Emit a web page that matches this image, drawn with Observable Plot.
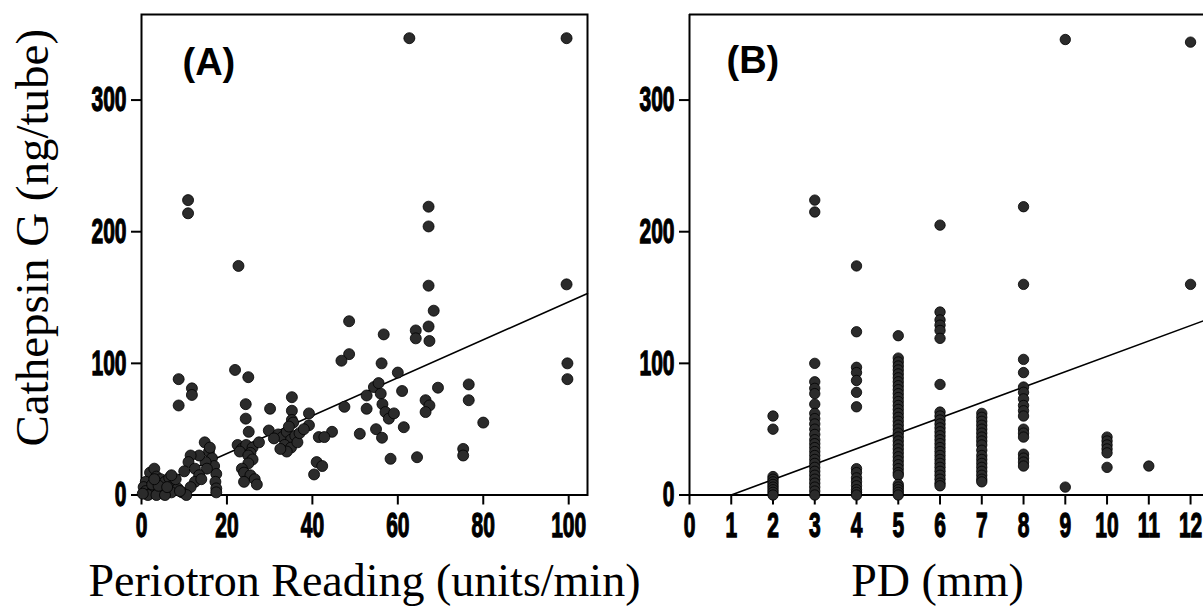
<!DOCTYPE html>
<html><head><meta charset="utf-8">
<script src="https://cdn.jsdelivr.net/npm/d3@7"></script>
<script src="https://cdn.jsdelivr.net/npm/@observablehq/plot@0.6"></script>
<style>
html,body{margin:0;padding:0;background:#fff;}
#chart{position:relative;width:1203px;height:606px;overflow:hidden;background:#fff;}
#chart svg{position:absolute;top:0;}
</style></head><body><div id="chart"></div>
<script>
// ---- Panel A: Periotron reading vs Cathepsin G ----
const periotronA = [62.7,99.5,10.9,10.9,67.2,67.2,22.7,67.2,99.5,68.4,48.6,67.2,64.2,64.2,56.7,67.4,48.6,46.8,56.2,99.7,99.7,21.9,25,8.7,11.8,11.8,60,76.6,76.6,69.4,61,8.7,35.2,30.1,24.4,24.4,47.5,52.7,52.7,54.4,56,56.4,57.1,57.9,59.1,55.5,66.5,67.4,66.5,39.2,39.2,35.2,35.2,61.4,80,44.6,51.1,54.9,56.3,41.5,42.8,75.3,75.3,58.3,64.5,41,42.3,40.4,
25.1,29.8,22.5,23.5,24.5,26,25.5,23,25,26,25,23.5,24,25.5,26.5,27,24,27.5,
32,33,34,35,36,33.5,35,34,36.5,37,38,31,32.5,35.5,34.5,
14.8,15.8,16.5,17,17.5,17.3,17.5,17.5,15,15.3,13.5,16,
11.5,11,12.5,13.5,12.5,11.5,14,10,
2,3,3.5,4.5,5.5,6.5,7.5,8.5,9.5,10.5,1,0.5,1,2,3,4,5,6,7,1.5,3.5,5.5,0.3,2.5,4,6,8,9,3,7];
const cathepsinA = [347,347,224,214,219,204,174,159,160,140,132,128,125,119,122,117,107,102,100,100,88,95,89.5,88,81,76,93,84,72,81.5,79,68,74.3,65.5,69,58,67,75.6,65.5,82,77,69,63,58,62,85,72,68,63,62,53,64,57,51.5,55,48,46.5,50,43.5,44,44,35,30,27.5,28.7,25,22,15.6,
48,49,38,35,38,36,32,33,30,27,24,20,17,15,12,8,10,40,
46,44,48,42,45,38,36,33,40,47,50,43,35,55,52,
40,33,28,22,16,10,5,2,25,20,30,36,
30,25,20,15,10,6,12,18,
17,20,14,12,10,13,8,5,2,0,10,6,3,1,2,4,1,3,2,0,0,0,1,8,7,6,12,3,12,15];
const fitA = {intercept: 2.7, slope: 1.44};
const ticksA = [0,20,40,60,80,100];

// ---- Panel B: PD vs Cathepsin G ----
const pdLevels = [2,3,4,5,6,7,8,9,10,11,12];
const cathepsinByPD = [
  [60,50,14,12,10,8,6,4,2,0],
  [224,215,100,86,81,77,69,62,58,54,50,46,42,39,36,33,30,27,24,21,18,15,12,9,6,3,0],
  [174,124,97,93,87,78,67,20,17,13,10,7,4,2,0],
  [121,104,101,98,95,92,89,86,83,80,77,74,71,68,65,62,59,56,53,50,47,44,41,38,35,32,29,26,23,20,17,15,8,6,4,2,0],
  [205,139,133,129,125,119,84,63,60,57,54,51,48,45,42,39,36,33,30,27,24,21,18,15,12,9,7],
  [62,59,56,53,50,47,44,41,38,34,30,27,24,21,18,15,12,10],
  [219,160,103,93,82,78,73,68,64,60,50,47,44,31,28,25,22],
  [346,6],
  [44,41,38,35,32,21],
  [22],
  [344,160]
];
const fitB = {intercept: -11.7, slope: 11.7, start: 1};
const ticksB = [0,1,2,3,4,5,6,7,8,9,10,11,12];
const ticksY = [0,100,200,300];

const yDomain = [0, 365];
const dataA = periotronA.map((x, i) => ({x, y: cathepsinA[i]}));
const dataB = pdLevels.flatMap((x, i) => cathepsinByPD[i].map(y => ({x, y})));

const serif = "'Liberation Serif','Times New Roman',serif";
const sans = "'Liberation Sans',Arial,sans-serif";

// make tick labels tall and narrow like the original condensed type
function condense(svg, k) {
  svg.querySelectorAll('g[aria-label="x-axis tick label"] text, g[aria-label="y-axis tick label"] text').forEach(t => {
    let tr = t.getAttribute("transform") || "";
    const xa = t.getAttribute("x"), ya = t.getAttribute("y");
    if (!tr) {
      const x = xa != null && isFinite(+xa) ? +xa : 0;
      const y = ya != null && isFinite(+ya) ? +ya : 0;
      if (xa != null && isFinite(+xa)) t.removeAttribute("x");
      if (ya != null && isFinite(+ya)) t.removeAttribute("y");
      tr = `translate(${x},${y})`;
    }
    t.setAttribute("transform", `${tr} scale(${k},1)`);
    t.setAttribute("stroke", "black");
    t.setAttribute("stroke-width", "1.3");
  });
}

const axisStyle = {fontSize: 35, fontWeight: "bold", fontFamily: sans, label: null};

const xDomA = [0, 104.4];
const plotA = Plot.plot({
  width: 600, height: 606,
  marginLeft: 141, marginRight: 13, marginTop: 14, marginBottom: 111.5,
  style: {background: "transparent", overflow: "visible", color: "black"},
  x: {domain: xDomA, label: null},
  y: {domain: yDomain, label: null},
  marks: [
    Plot.frame({stroke: "black", strokeWidth: 2}),
    Plot.axisY({ticks: ticksY, tickSize: 10, tickPadding: 5, tickFormat: d => String(d), ...axisStyle, strokeWidth: 2}),
    Plot.axisX({ticks: ticksA, tickSize: 10, tickPadding: 7, tickFormat: d => String(d), ...axisStyle, strokeWidth: 2}),
    Plot.line([xDomA[0], xDomA[1]], {x: d => d, y: d => fitA.intercept + fitA.slope * d, stroke: "black", strokeWidth: 1.6}),
    Plot.dot(dataA, {x: "x", y: "y", r: 5.5, fill: "#2b2b2b", stroke: "#000", strokeWidth: 0.8}),
    Plot.text(["(A)"], {frameAnchor: "top-left", dx: 41, dy: 34, lineAnchor: "top", fontSize: 38, fontWeight: "bold", fontFamily: sans}),
    Plot.text(["Cathepsin G (ng/tube)"], {frameAnchor: "left", rotate: -90, textAnchor: "middle", lineAnchor: "middle", dx: -109, dy: -17, fontSize: 47, fontFamily: serif}),
    Plot.text(["Periotron Reading (units/min)"], {frameAnchor: "bottom", textAnchor: "middle", lineAnchor: "middle", dy: 86, fontSize: 46, fontFamily: serif})
  ]
});
plotA.style.left = "0px";
condense(plotA, 0.6);

const xDomB = [0, 12.31];
const plotB = Plot.plot({
  width: 603, height: 606,
  marginLeft: 89, marginRight: 0, marginTop: 14, marginBottom: 111.5,
  style: {background: "transparent", overflow: "visible", color: "black"},
  x: {domain: xDomB, label: null},
  y: {domain: yDomain, label: null},
  marks: [
    Plot.ruleY([yDomain[1]], {stroke: "black", strokeWidth: 2}),
    Plot.ruleY([0], {stroke: "black", strokeWidth: 2}),
    Plot.ruleX([0], {stroke: "black", strokeWidth: 2}),
    Plot.axisY({ticks: ticksY, tickSize: 10, tickPadding: 5, tickFormat: d => String(d), ...axisStyle, strokeWidth: 2}),
    Plot.axisX({ticks: ticksB, tickSize: 10, tickPadding: 7, tickFormat: d => String(d), ...axisStyle, strokeWidth: 2}),
    Plot.line([fitB.start, xDomB[1]], {x: d => d, y: d => fitB.intercept + fitB.slope * d, stroke: "black", strokeWidth: 1.6}),
    Plot.dot(dataB, {x: "x", y: "y", r: 5.2, fill: "#2b2b2b", stroke: "#000", strokeWidth: 0.8}),
    Plot.text(["(B)"], {frameAnchor: "top-left", dx: 37, dy: 32, lineAnchor: "top", fontSize: 38, fontWeight: "bold", fontFamily: sans}),
    Plot.text(["PD (mm)"], {frameAnchor: "bottom", textAnchor: "middle", lineAnchor: "middle", dx: -9, dy: 86, fontSize: 46, fontFamily: serif})
  ]
});
plotB.style.left = "600px";
condense(plotB, 0.6);

const chart = document.getElementById("chart");
chart.appendChild(plotA);
chart.appendChild(plotB);
</script>
</body></html>
